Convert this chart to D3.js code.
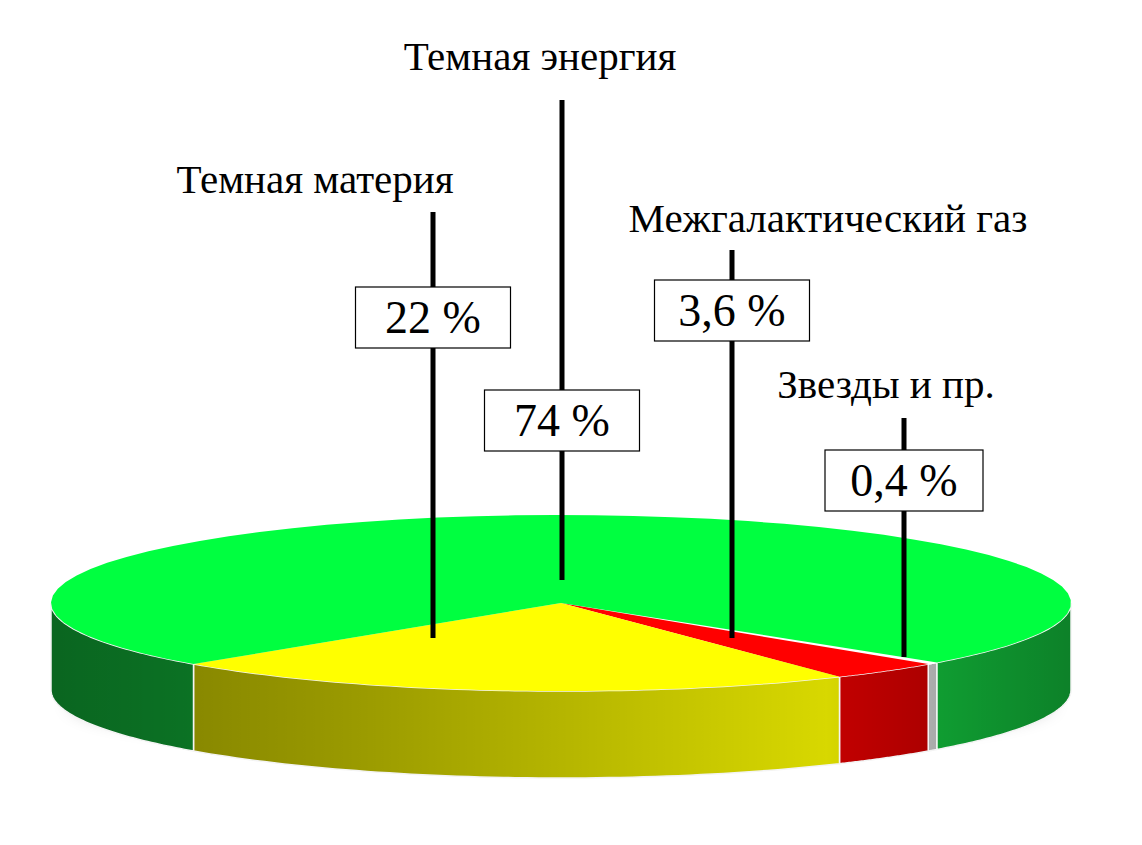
<!DOCTYPE html>
<html><head><meta charset="utf-8">
<script src="https://cdn.jsdelivr.net/npm/d3@7"></script>
<style>body{margin:0;background:#fff}</style>
</head><body>
<script>
const width = 1142, height = 845;
const cx = 561, cy = 603, rx = 510, ry = 88, depth = 87;

// data (clockwise from the front-right)
const names = ["Звезды и пр.", "Межгалактический газ", "Темная материя", "Темная энергия"];
const values = [0.4, 3.6, 22, 74];
const valueLabels = ["0,4 %", "3,6 %", "22 %", "74 %"];
const topColors = ["#ffffff", "#ff0000", "#ffff00", "#00ff40"];
const sideColors = ["#c8c8c8", "#c80000", "#dcdc00", "#12b83a"];

// label layout
const labelLayout = [
  { x: 904, lineTop: 418, lineBot: 657, boxY: 450, boxW: 158, nameX: 886, nameY: 398 },
  { x: 732, lineTop: 250, lineBot: 638, boxY: 280, boxW: 155, nameX: 828, nameY: 232 },
  { x: 433, lineTop: 212, lineBot: 638, boxY: 287, boxW: 155, nameX: 315, nameY: 193 },
  { x: 562, lineTop: 100, lineBot: 580, boxY: 390, boxW: 155, nameX: 540, nameY: 70 }
];

const svg = d3.select("body").append("svg")
  .attr("width", width).attr("height", height);

const defs = svg.append("defs");
defs.append("filter").attr("id", "blur").attr("x", "-20%").attr("y", "-50%").attr("width", "140%").attr("height", "200%")
  .append("feGaussianBlur").attr("stdDeviation", 10);
const shade = defs.append("linearGradient").attr("id", "shade")
  .attr("gradientUnits", "userSpaceOnUse")
  .attr("x1", cx - rx).attr("x2", cx + rx).attr("y1", 0).attr("y2", 0);
[[0, 0.45], [0.3, 0.3], [0.76, 0.02], [0.87, 0.15], [1, 0.3]].forEach(([o, a]) =>
  shade.append("stop").attr("offset", o).attr("stop-color", "#000").attr("stop-opacity", a));

const pie = d3.pie().sort(null).startAngle(42.5 * Math.PI / 180).endAngle(42.5 * Math.PI / 180 + 2 * Math.PI);
const arcs = pie(values);

const pt = (t, dy = 0) => [cx + rx * Math.cos(t), cy + ry * Math.sin(t) + dy];
const samples = (a, b) => d3.range(0, 61).map(i => a + (b - a) * i / 60);
const line = d3.line();

// shadow
svg.append("ellipse").attr("cx", cx).attr("cy", cy + depth + 10).attr("rx", rx - 20).attr("ry", ry * 0.5)
  .attr("fill", "#000").attr("opacity", 0.35).attr("filter", "url(#blur)");

// sides (front half only: t in [0, PI] or [2PI, 3PI])
const sides = svg.append("g");
arcs.forEach((d, i) => {
  [[0, Math.PI], [2 * Math.PI, 3 * Math.PI]].forEach(([lo, hi]) => {
    const a = Math.max(d.startAngle, lo), b = Math.min(d.endAngle, hi);
    if (b <= a) return;
    const top = samples(a, b).map(t => pt(t));
    const bot = samples(a, b).reverse().map(t => pt(t, depth));
    const p = line(top.concat(bot)) + "Z";
    sides.append("path").attr("d", p).attr("fill", sideColors[i]);
    sides.append("path").attr("d", p).attr("fill", "url(#shade)")
      .attr("stroke", "#f4f4f4").attr("stroke-width", 1.5);
  });
});

// top
svg.append("g").selectAll("path").data(arcs).join("path")
  .attr("d", d => line([[cx, cy]].concat(samples(d.startAngle, d.endAngle).map(t => pt(t)))) + "Z")
  .attr("fill", (d, i) => topColors[i])
  .attr("stroke", (d, i) => i === 0 ? "#ffffff" : "none").attr("stroke-width", 1.5);

// labels
const lab = svg.append("g").selectAll("g").data(arcs).join("g");
lab.append("line")
  .attr("x1", (d, i) => labelLayout[i].x).attr("x2", (d, i) => labelLayout[i].x)
  .attr("y1", (d, i) => labelLayout[i].lineTop).attr("y2", (d, i) => labelLayout[i].lineBot)
  .attr("stroke", "#000").attr("stroke-width", 5);
lab.append("rect")
  .attr("x", (d, i) => labelLayout[i].x - labelLayout[i].boxW / 2)
  .attr("y", (d, i) => labelLayout[i].boxY)
  .attr("width", (d, i) => labelLayout[i].boxW).attr("height", 61)
  .attr("fill", "#fff").attr("stroke", "#000").attr("stroke-width", 1.2);
lab.append("text")
  .attr("x", (d, i) => labelLayout[i].x).attr("y", (d, i) => labelLayout[i].boxY + 46)
  .attr("text-anchor", "middle")
  .style("font", "46px 'Liberation Serif', 'Times New Roman', serif")
  .text((d, i) => valueLabels[i]);
lab.append("text")
  .attr("x", (d, i) => labelLayout[i].nameX).attr("y", (d, i) => labelLayout[i].nameY)
  .attr("text-anchor", "middle")
  .style("font", "41px 'Liberation Serif', 'Times New Roman', serif")
  .text((d, i) => names[i]);
</script>
</body></html>
